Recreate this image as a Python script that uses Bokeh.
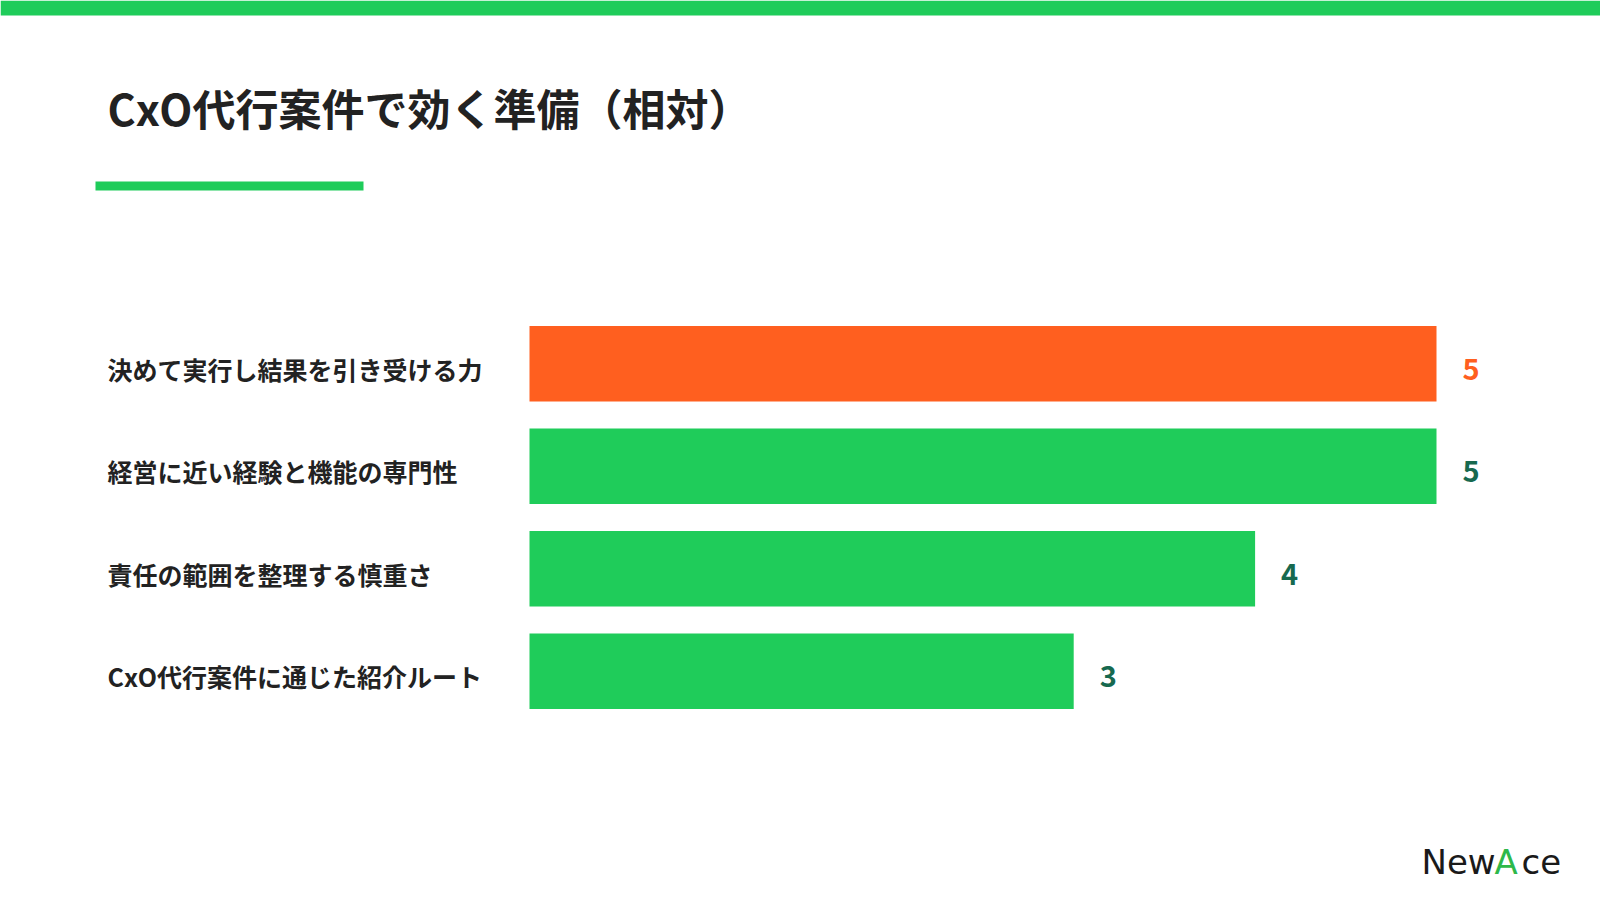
from bokeh.plotting import figure
from bokeh.models import Range1d, Label, BoxAnnotation, ColumnDataSource
from bokeh.core.properties import value
from bokeh.embed import file_html
from bokeh.resources import INLINE

# ---- data ----
categories = [
    "決めて実行し結果を引き受ける力",
    "経営に近い経験と機能の専門性",
    "責任の範囲を整理する慎重さ",
    "CxO代行案件に通じた紹介ルート",
]
scores = [5, 5, 4, 3]
highlight = [True, False, False, False]
title_text = "CxO代行案件で効く準備（相対）"

# ---- style ----
GREEN = "#1FCC5A"
ORANGE = "#FF5F1F"
TEAL = "#17694F"
DARK = "#222222"
FONT = "Noto Sans CJK JP"

W, H = 1600, 903
# layout (figure pixels)
X0_PX = 529.0        # where score 0 sits
PX_PER_UNIT = 181.4  # pixels per score point
Y0_PX = 363.3        # center of first row from top
ROW_PX = 102.5       # row spacing
BAR_H = 0.737

x_start = -X0_PX / PX_PER_UNIT
x_end = (W - X0_PX) / PX_PER_UNIT
y_top = -Y0_PX / ROW_PX
y_bottom = (H - Y0_PX) / ROW_PX

p = figure(width=W, height=H, output_backend="svg", toolbar_location=None,
           x_range=Range1d(x_start, x_end), y_range=Range1d(y_bottom, y_top),
           min_border=0, min_border_left=0, min_border_right=0,
           min_border_top=0, min_border_bottom=0)
p.axis.visible = False
p.xgrid.visible = False
p.ygrid.visible = False
p.outline_line_color = None
p.background_fill_color = "white"
p.border_fill_color = "white"

idx = list(range(len(categories)))
src = ColumnDataSource(dict(
    y=idx,
    score=scores,
    cat=categories,
    label=[str(s) for s in scores],
    bar_color=[ORANGE if h else GREEN for h in highlight],
    num_color=[ORANGE if h else TEAL for h in highlight],
    xl=[x_start] * len(idx),
))

p.hbar(y="y", left=0, right="score", height=BAR_H, fill_color="bar_color",
       line_color=None, source=src)

p.text(x="xl", y="y", text="cat", source=src, x_offset=107, y_offset=5,
       text_font=value(FONT), text_font_style="bold", text_font_size="25px",
       text_color=DARK, text_align="left", text_baseline="middle")

p.text(x="score", y="y", text="label", source=src, x_offset=26, y_offset=5,
       text_font=value(FONT), text_font_style="bold", text_font_size="29px",
       text_color="num_color", text_align="left", text_baseline="middle")

# top band
p.add_layout(BoxAnnotation(left=0, right=W, top=H, bottom=H - 15,
                           left_units="screen", right_units="screen",
                           top_units="screen", bottom_units="screen",
                           fill_color=GREEN, fill_alpha=1, line_color=None))
# accent line under title
p.add_layout(BoxAnnotation(left=95, right=363, top=H - 181, bottom=H - 190,
                           left_units="screen", right_units="screen",
                           top_units="screen", bottom_units="screen",
                           fill_color=GREEN, fill_alpha=1, line_color=None))

p.add_layout(Label(x=107, y=H - 106, x_units="screen", y_units="screen",
                   text=title_text, text_font=FONT, text_font_style="bold",
                   text_font_size="43px", text_color=DARK,
                   text_baseline="middle", text_align="left"))

# logo
for t, xx, col in [("New", 1421, "#1a1a1a"), ("A", 1494, "#2EB84A"), ("ce", 1521, "#1a1a1a")]:
    p.add_layout(Label(x=xx, y=H - 861, x_units="screen", y_units="screen",
                       text=t, text_font="DejaVu Sans", text_font_size="34px",
                       text_color=col, text_baseline="alphabetic",
                       text_align="left"))

open("out.html", "w").write(file_html(p, INLINE))
